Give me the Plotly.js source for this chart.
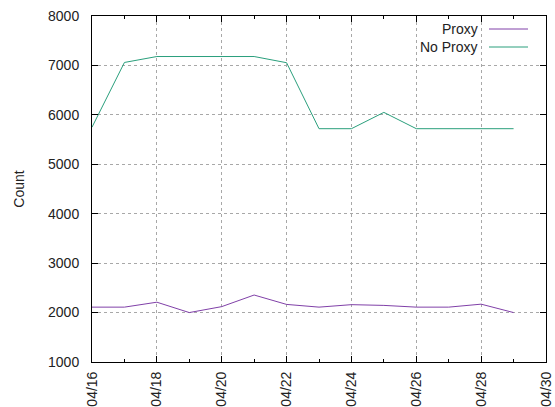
<!DOCTYPE html>
<html>
<head>
<meta charset="utf-8">
<script src="https://cdn.plot.ly/plotly-3.0.1.min.js"></script>
<style>html,body{margin:0;padding:0;background:#fff;}#chart{width:555px;height:407px;}</style>
</head>
<body>
<div id="chart"></div>
<script>
const dates = ['2024-04-16','2024-04-17','2024-04-18','2024-04-19','2024-04-20','2024-04-21','2024-04-22','2024-04-23','2024-04-24','2024-04-25','2024-04-26','2024-04-27','2024-04-28','2024-04-29'];
const proxy = [2110,2110,2210,2000,2120,2355,2165,2110,2160,2145,2110,2110,2170,2000];
const noProxy = [5750,7060,7180,7180,7180,7180,7055,5720,5720,6050,5720,5720,5720,5720];
const seriesNames = ['Proxy','No Proxy'];
const seriesColors = ['#8040a8','#2a9f7c'];

const font = {family:'Liberation Sans, Arial, sans-serif', size:14, color:'#222'};
const traces = [
  {x:dates, y:proxy, name:seriesNames[0], type:'scatter', mode:'lines', line:{color:seriesColors[0], width:1}},
  {x:dates, y:noProxy, name:seriesNames[1], type:'scatter', mode:'lines', line:{color:seriesColors[1], width:1}}
];

// custom gnuplot-style legend (text right, sample line on the right)
const annotations = [], shapes = [];
seriesNames.forEach((n,i)=>{
  const yp = 1 - (13 + i*18)/346;
  annotations.push({xref:'paper', yref:'paper', x:(480-92)/454, y:yp, xanchor:'right', yanchor:'middle', text:n, showarrow:false, font:font});
  shapes.push({type:'line', xref:'paper', yref:'paper', x0:(489-92)/454, x1:(528-92)/454, y0:yp, y1:yp, line:{color:seriesColors[i], width:1}});
});

const axisCommon = {showline:true, linecolor:'#000', linewidth:1, mirror:'ticks', ticks:'inside', tickcolor:'#000', ticklen:6, showgrid:true, gridcolor:'#a8a8a8', griddash:'dot', gridwidth:1, zeroline:false, tickfont:font};

const layout = {
  width:555, height:407,
  margin:{l:92, r:9, t:16, b:45},
  paper_bgcolor:'#fff', plot_bgcolor:'#fff',
  showlegend:false,
  font:font,
  xaxis:Object.assign({}, axisCommon, {
    type:'date', range:['2024-04-16','2024-04-30'],
    tick0:'2024-04-16', dtick:2*86400000, tickformat:'%m/%d', tickangle:-90,
    ticklabelstandoff:3,
    minor:{dtick:86400000, ticks:'inside', ticklen:3, tickcolor:'#000', showgrid:false}
  }),
  yaxis:Object.assign({}, axisCommon, {
    range:[1000,8000], dtick:1000, tick0:0,
    ticklabelstandoff:9,
    title:{text:'Count', font:font, standoff:20}
  }),
  annotations:annotations,
  shapes:shapes
};
Plotly.newPlot('chart', traces, layout, {displayModeBar:false, staticPlot:true});
</script>
</body>
</html>
